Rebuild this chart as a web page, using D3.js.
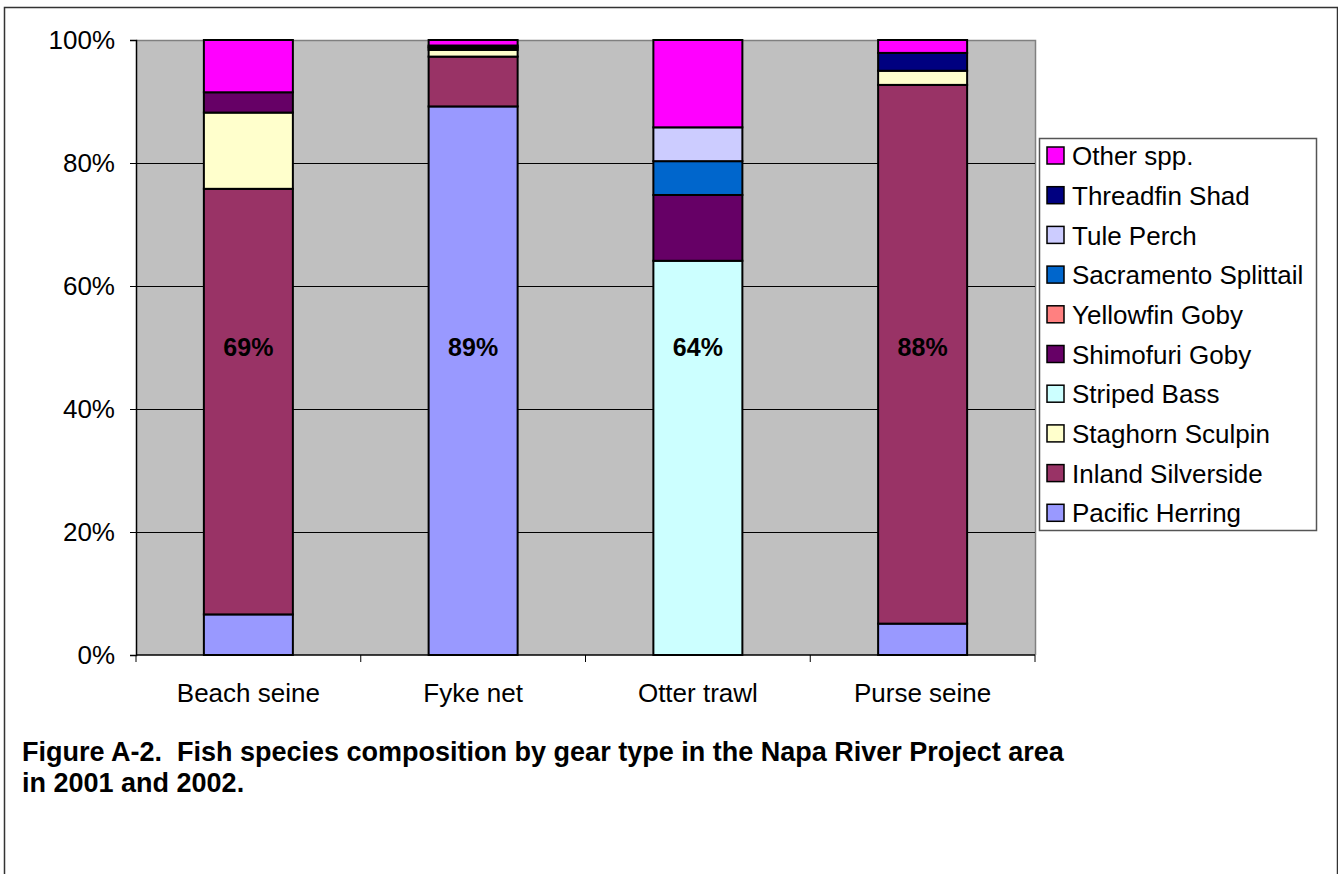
<!DOCTYPE html>
<html>
<head>
<meta charset="utf-8">
<script src="https://cdn.jsdelivr.net/npm/d3@7"></script>
<style>
  body { margin: 0; background: #fff; }
  svg { font-family: Arial, "Liberation Sans", sans-serif; }
</style>
</head>
<body>
<div id="chart"></div>
<script>
// Gear types along the x axis
const gears = ["Beach seine", "Fyke net", "Otter trawl", "Purse seine"];

// Species, bottom of stack to top
const species = ["Pacific Herring", "Inland Silverside", "Staghorn Sculpin", "Striped Bass",
  "Shimofuri Goby", "Yellowfin Goby", "Sacramento Splittail", "Tule Perch", "Threadfin Shad", "Other spp."];
const speciesColors = ["#9999ff", "#993366", "#ffffcc", "#ccffff",
  "#660066", "#ff8080", "#0066cc", "#ccccff", "#000080", "#ff00ff"];

// Percent of catch per species, one value per gear
const pacificHerring   = [6.6, 89.2, 0, 5.1];
const inlandSilverside = [69.2, 8.1, 0, 87.6];
const staghornSculpin  = [12.4, 1.1, 0, 2.3];
const stripedBass      = [0, 0.3, 64.1, 0];
const shimofuriGoby    = [3.3, 0.2, 10.7, 0];
const yellowfinGoby    = [0, 0, 0, 0];
const sacSplittail     = [0, 0, 5.5, 0];
const tulePerch        = [0, 0, 5.5, 0];
const threadfinShad    = [0, 0.2, 0, 2.9];
const otherSpp         = [8.5, 0.9, 14.2, 2.1];

const yTicks = [0, 20, 40, 60, 80, 100];

const seriesValues = [pacificHerring, inlandSilverside, staghornSculpin, stripedBass,
  shimofuriGoby, yellowfinGoby, sacSplittail, tulePerch, threadfinShad, otherSpp];

// Build table for d3.stack
const table = gears.map((g, i) => {
  const row = { gear: g };
  species.forEach((s, j) => row[s] = seriesValues[j][i]);
  return row;
});

const width = 1338, height = 874;
const plot = { left: 136, right: 1035, top: 40, bottom: 655 };
const fontSize = 26;

const svg = d3.select("#chart").append("svg")
  .attr("width", width)
  .attr("height", height);

// Outer frame
svg.append("rect")
  .attr("x", 4.5).attr("y", 7.5)
  .attr("width", width - 5).attr("height", height - 5)
  .attr("fill", "#fff")
  .attr("stroke", "#333").attr("stroke-width", 1.5);

const x = d3.scaleBand()
  .domain(gears)
  .range([plot.left, plot.right])
  .paddingInner(0.604)
  .paddingOuter(0.302);

const y = d3.scaleLinear()
  .domain([0, 100])
  .range([plot.bottom, plot.top]);

// Plot background
svg.append("rect")
  .attr("x", plot.left).attr("y", plot.top)
  .attr("width", plot.right - plot.left).attr("height", plot.bottom - plot.top)
  .attr("fill", "#c0c0c0");

// Top and right plot border (gray)
svg.append("path")
  .attr("d", `M${plot.left},${plot.top + 0.5}H${plot.right + 0.5}V${plot.bottom}`)
  .attr("fill", "none")
  .attr("stroke", "#808080").attr("stroke-width", 1.5);

// Gridlines
svg.append("g")
  .selectAll("line")
  .data(yTicks.filter(t => t > 0 && t < 100))
  .enter().append("line")
  .attr("x1", plot.left).attr("x2", plot.right)
  .attr("y1", d => Math.round(y(d)) + 0.5).attr("y2", d => Math.round(y(d)) + 0.5)
  .attr("stroke", "#000").attr("stroke-width", 1);

// Stacked bars
const stack = d3.stack().keys(species);
const stacked = stack(table);

const layers = svg.append("g")
  .selectAll("g")
  .data(stacked)
  .enter().append("g")
  .attr("fill", (d, i) => speciesColors[i]);

layers.selectAll("rect")
  .data(d => d.filter(p => p[1] - p[0] > 0))
  .enter().append("rect")
  .attr("x", d => x(d.data.gear))
  .attr("width", x.bandwidth())
  .attr("y", d => y(d[1]))
  .attr("height", d => y(d[0]) - y(d[1]))
  .attr("stroke", "#000")
  .attr("stroke-width", 2);

// Dominant species labels
svg.append("g")
  .selectAll("text")
  .data(table)
  .enter().append("text")
  .attr("x", d => x(d.gear) + x.bandwidth() / 2)
  .attr("y", y(50))
  .attr("dy", "0.35em")
  .attr("text-anchor", "middle")
  .attr("font-size", 25)
  .attr("font-weight", "bold")
  .text(d => Math.round(d3.max(species, s => d[s])) + "%");

// Y axis
const yAxis = svg.append("g")
  .attr("transform", `translate(${plot.left},0)`)
  .call(d3.axisLeft(y).tickValues(yTicks).tickFormat(d => d + "%").tickSize(6).tickPadding(15));
yAxis.select(".domain").attr("stroke", "#000").attr("stroke-width", 1.5);
yAxis.selectAll("text").attr("font-size", fontSize).attr("font-family", "Arial, 'Liberation Sans', sans-serif").attr("fill", "#000");

// X axis: ticks at category boundaries
const xAxis = svg.append("g").attr("transform", `translate(0,${plot.bottom})`);
xAxis.append("line")
  .attr("x1", plot.left).attr("x2", plot.right)
  .attr("stroke", "#000").attr("stroke-width", 1.5);
const step = x.step();
xAxis.selectAll(".xtick")
  .data(d3.range(gears.length + 1))
  .enter().append("line")
  .attr("x1", i => plot.left + i * step).attr("x2", i => plot.left + i * step)
  .attr("y1", 0).attr("y2", 7)
  .attr("stroke", "#000").attr("stroke-width", 1);
xAxis.selectAll(".xlabel")
  .data(gears)
  .enter().append("text")
  .attr("x", d => x(d) + x.bandwidth() / 2)
  .attr("y", 47)
  .attr("text-anchor", "middle")
  .attr("font-size", fontSize)
  .text(d => d);

// Legend
const legend = svg.append("g").attr("transform", "translate(1039,138)");
legend.append("rect")
  .attr("x", 0.5).attr("y", 0.5)
  .attr("width", 277).attr("height", 392)
  .attr("fill", "#fff")
  .attr("stroke", "#555").attr("stroke-width", 1.5);

const legendItems = species.slice().reverse();
const items = legend.selectAll(".item")
  .data(legendItems)
  .enter().append("g")
  .attr("transform", (d, i) => `translate(8,${17 + i * 39.7})`);
items.append("rect")
  .attr("x", 0).attr("y", -8)
  .attr("width", 17).attr("height", 17)
  .attr("fill", d => speciesColors[species.indexOf(d)])
  .attr("stroke", "#000").attr("stroke-width", 1.5);
items.append("text")
  .attr("x", 25).attr("y", 1)
  .attr("dy", "0.35em")
  .attr("font-size", fontSize)
  .text(d => d);

// Caption
const caption = svg.append("text")
  .attr("x", 22).attr("y", 761)
  .attr("font-size", 27)
  .attr("font-weight", "bold")
  .style("white-space", "pre");
caption.append("tspan").attr("x", 22).text("Figure A-2.  Fish species composition by gear type in the Napa River Project area");
caption.append("tspan").attr("x", 22).attr("dy", 31).text("in 2001 and 2002.");
</script>
</body>
</html>
